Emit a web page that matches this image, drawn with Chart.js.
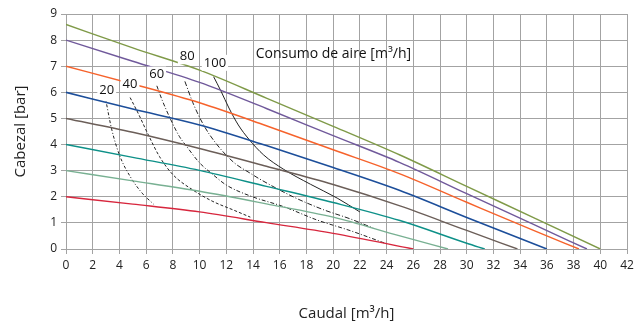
<!doctype html>
<html>
<head>
	<title>Curvas de bomba</title>
	<script src="https://cdn.jsdelivr.net/npm/chart.js@4.4.1/dist/chart.umd.min.js"></script>
	<style>
	html, body { margin: 0; padding: 0; background: #fff; }
	#wrap { width: 642px; height: 325px; }
	</style>
</head>
<body>
	<div id="wrap"><canvas id="canvas"></canvas></div>
	<script>
		// pressure curves (caudal m3/h -> cabezal bar)
		const q86 = [0, 5, 10, 15, 20, 25, 30, 35, 40];
		const h86 = [8.6, 7.7, 6.85, 5.78, 4.7, 3.6, 2.4, 1.2, 0];
		const q80 = [0, 5, 10, 15, 20, 25, 30, 35, 39];
		const h80 = [8.0, 7.19, 6.38, 5.38, 4.34, 3.31, 2.12, 0.94, 0];
		const q70 = [0, 5, 10, 15, 20, 25, 30, 35, 38.4];
		const h70 = [7.0, 6.32, 5.6, 4.72, 3.8, 2.88, 1.79, 0.71, 0];
		const q60 = [0, 5, 10, 15, 20, 25, 30, 36];
		const h60 = [6.0, 5.36, 4.75, 3.96, 3.12, 2.24, 1.21, 0];
		const q50 = [0, 5, 10, 15, 20, 25, 30, 33.8];
		const h50 = [5.0, 4.47, 3.85, 3.17, 2.47, 1.65, 0.71, 0];
		const q40 = [0, 5, 10, 15, 20, 25, 30, 31.35];
		const h40 = [4.0, 3.51, 3.01, 2.4, 1.78, 1.09, 0.22, 0];
		const q30 = [0, 5, 10, 15, 20, 25, 28.6];
		const h30 = [3.0, 2.61, 2.21, 1.73, 1.22, 0.5, 0];
		const q20 = [0, 5, 10, 15, 20, 26];
		const h20 = [2.0, 1.72, 1.42, 1.01, 0.6, 0];

		// air consumption curves
		const airQ20 = [3.0, 3.4, 4.0, 4.8, 5.7, 6.55];
		const airH20 = [5.65, 4.63, 3.6, 2.78, 2.14, 1.72];
		const airQ40 = [4.8, 5.4, 6.1, 7.0, 8.0, 9.5, 11.0, 12.5, 13.8];
		const airH40 = [5.8, 5.2, 4.44, 3.54, 2.85, 2.26, 1.82, 1.5, 1.22];
		const airQ60 = [6.8, 7.2, 7.8, 8.5, 9.0, 10.0, 11.0, 12.0, 13.8, 16.3, 18.8, 21.3, 24.0];
		const airH60 = [6.25, 5.7, 5.0, 4.3, 3.95, 3.3, 2.85, 2.45, 2.03, 1.62, 1.11, 0.7, 0.2];
		const airQ80 = [8.9, 9.5, 10.3, 11.3, 12.6, 13.8, 14.5, 17.0, 19.3, 21.3, 23.0];
		const airH80 = [6.42, 5.6, 4.75, 4.0, 3.3, 2.9, 2.68, 2.0, 1.5, 1.15, 0.8];
		const airQ100 = [11.05, 11.6, 12.2, 12.9, 13.7, 14.8, 16.3, 18.3, 20.3, 22.0];
		const airH100 = [6.6, 6.05, 5.4, 4.75, 4.2, 3.6, 3.05, 2.48, 1.95, 1.42];

		const airLabels = ['20', '40', '60', '80', '100'];
		const airTitle = 'Consumo de aire [m³/h]';

		const FONT = "'Open Sans', sans-serif";

		function pts(xs, ys) {
			return xs.map((x, i) => ({ x: x, y: ys[i] }));
		}

		function curve(xs, ys, color, width, dash) {
			return {
				data: pts(xs, ys),
				borderColor: color,
				borderWidth: width,
				borderDash: dash || [],
				showLine: true,
				pointRadius: 0,
				fill: false,
				cubicInterpolationMode: 'monotone'
			};
		}

		const datasets = [
			curve(q86, h86, '#7f9a48', 1.4),
			curve(q80, h80, '#70599b', 1.4),
			curve(q70, h70, '#f6622b', 1.4),
			curve(q60, h60, '#1c4e9a', 1.6),
			curve(q50, h50, '#6b5e58', 1.4),
			curve(q40, h40, '#0d9088', 1.4),
			curve(q30, h30, '#78b092', 1.4),
			curve(q20, h20, '#d7263d', 1.4),
			curve(airQ20, airH20, '#222', 1, [1, 2, 3, 2]),
			curve(airQ40, airH40, '#222', 1, [3, 2]),
			curve(airQ60, airH60, '#222', 1, [4, 2, 1, 2]),
			curve(airQ80, airH80, '#222', 1, [5, 2, 1, 2]),
			curve(airQ100, airH100, '#222', 1)
		];

		// where the text sits, in data units
		const labelPos = [[3.05, 6.08], [4.79, 6.32], [6.79, 6.68], [9.08, 7.38], [11.15, 7.13]];
		const titlePos = [14.2, 7.45];

		const textPlugin = {
			id: 'airText',
			afterDatasetsDraw(chart) {
				const ctx = chart.ctx;
				const xs = chart.scales.x, ys = chart.scales.y;
				ctx.save();
				ctx.font = '13px ' + FONT;
				ctx.textBaseline = 'middle';
				ctx.textAlign = 'center';
				airLabels.forEach((t, i) => {
					const px = xs.getPixelForValue(labelPos[i][0]);
					const py = ys.getPixelForValue(labelPos[i][1]);
					const w = ctx.measureText(t).width;
					ctx.fillStyle = '#fff';
					ctx.fillRect(px - w / 2 - 2, py - 8, w + 4, 16);
					ctx.fillStyle = '#111';
					ctx.fillText(t, px, py);
				});
				ctx.font = '14px ' + FONT;
				ctx.textAlign = 'left';
				ctx.fillStyle = '#111';
				ctx.fillText(airTitle, xs.getPixelForValue(titlePos[0]), ys.getPixelForValue(titlePos[1]));
				ctx.restore();
			}
		};

		const ctx = document.getElementById('canvas');
		new Chart(ctx, {
			type: 'scatter',
			data: { datasets: datasets },
			plugins: [textPlugin],
			options: {
				responsive: true,
				maintainAspectRatio: false,
				animation: false,
				layout: { padding: { left: 12, right: 15, top: 14, bottom: 2 } },
				plugins: { legend: { display: false }, tooltip: { enabled: false } },
				scales: {
					x: {
						type: 'linear',
						min: 0, max: 42,
						ticks: { stepSize: 2, color: '#222', font: { family: FONT, size: 12 }, padding: 4, maxRotation: 0 },
						grid: { color: '#a3a3a3', lineWidth: 1, tickLength: 5 },
						border: { color: '#a3a3a3' },
						title: { display: true, text: 'Caudal [m³/h]', color: '#222', font: { family: FONT, size: 15 }, padding: { top: 0, bottom: 0 } },
						afterFit(scale) { scale.height = 74; }
					},
					y: {
						min: 0, max: 9,
						ticks: { stepSize: 1, color: '#222', font: { family: FONT, size: 12 }, padding: 4 },
						grid: { color: '#a3a3a3', lineWidth: 1, tickLength: 5 },
						border: { color: '#a3a3a3' },
						title: { display: true, text: 'Cabezal [bar]', color: '#222', font: { family: FONT, size: 15 }, padding: { top: 0, bottom: 0 } },
						afterFit(scale) { scale.width = 54; }
					}
				}
			}
		});
	</script>
</body>
</html>
